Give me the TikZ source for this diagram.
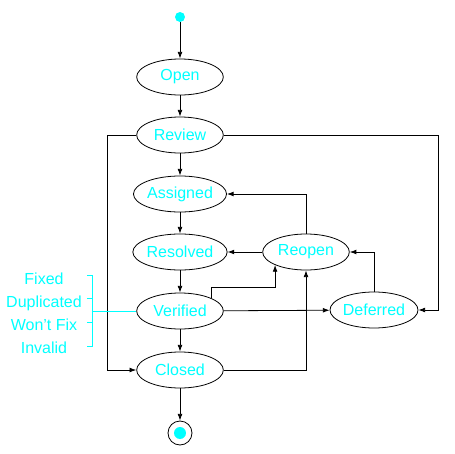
\documentclass[tikz,border=0pt]{standalone}
\usepackage{fontspec}
\setmainfont{Liberation Sans}
\usetikzlibrary{arrows.meta,shapes.geometric}
\definecolor{aqua}{RGB}{0,255,255}
\begin{document}
\begin{tikzpicture}[x=0.75pt,y=-0.75pt, >={Latex[length=5pt,width=3.6pt]}, line width=0.6pt]
                \tikzstyle{every node}=[font=\fontsize{12}{14}\selectfont, text=aqua]
                \tikzstyle{state}=[draw=black, ellipse, minimum width=65pt, minimum height=27pt, inner sep=0pt]
                \tikzstyle{result}=[anchor=base]
                \useasboundingbox (0,0) rectangle (455,454);
                \node[circle, fill=aqua, minimum size=7.5pt, inner sep=0pt] (start) at (180,17) {};
                \node[state] (open) at (180,77) {Open};
                \node[state] (review) at (180,135) {Review};
                \node[state] (assigned) at (180,194) {Assigned};
                \node[state] (resolved) at (180,252) {Resolved};
                \node[state] (verified) at (180,311) {Verified};
                \node[state] (closed) at (180,370) {Closed};
                \node[state] (reopen) at (306,252) {Reopen};
                \node[state] (deferred) at (374,310) {Deferred};
                \node[circle, draw=black, minimum size=18pt, inner sep=0pt] (finish) at (180,433) {};
                \fill[aqua] (finish) circle [radius=6];
                % main line
                \draw[->] (start) -- (open);
                \draw[->] (open) -- (review);
                \draw[->] (review) -- (assigned);
                \draw[->] (assigned) -- (resolved);
                \draw[->] (resolved) -- (verified);
                \draw[->] (verified) -- (closed);
                \draw[->] (closed) -- (finish);
                % side paths
                \draw[->] (review.west) -- ++(-29,0) |- (closed.west);
                \draw[->] (review.east) -- ++(215,0) |- (deferred.east);
                \draw[->] (reopen.north) |- (assigned.east);
                \draw[->] (reopen) -- (resolved);
                \draw[->] (verified.north east) -- ++(0,-11) -| (reopen.south west);
                \draw[->] (verified) -- (deferred);
                \draw[->] (closed.east) -| (reopen.south);
                \draw[->] (deferred.north) |- (reopen.east);
                % resolutions
                \node[result] (fixed) at (44,284) {Fixed};
                \node[result] (dup) at (44,307) {Duplicated};
                \node[result] (wontfix) at (44,330) {Won't Fix};
                \node[result] (invalid) at (44,353) {Invalid};
                \draw[aqua] (87,275) -- (92,275) -- (92,346) -- (87,346);
                \draw[aqua] (87,298) -- (92,298);
                \draw[aqua] (87,322) -- (92,322);
                \coordinate (brace) at (92,311);
                \draw[aqua] (brace) -- (verified.west);
            \end{tikzpicture}
\end{document}
